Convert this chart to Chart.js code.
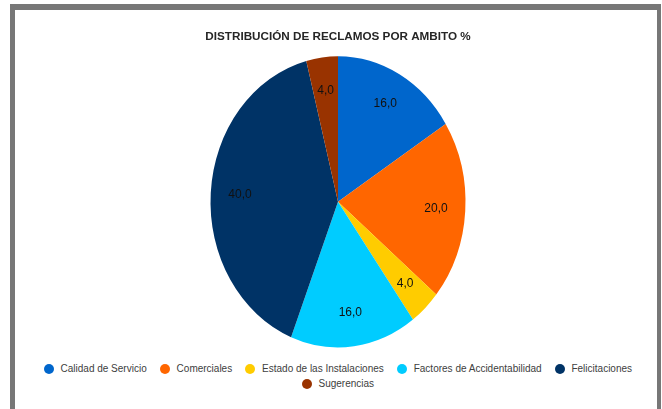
<!DOCTYPE html>
<html>
<head>
<meta charset="utf-8">
<script src="https://cdn.jsdelivr.net/npm/chart.js@4/dist/chart.umd.min.js"></script>
<style>
html,body{margin:0;padding:0;background:#fff;width:662px;height:409px;overflow:hidden;position:relative;}
#frame{position:absolute;left:10px;top:4px;width:642px;height:420px;border-style:solid;border-color:#777;border-width:6px 4px 0 5px;background:#fff;}
#wrap{position:absolute;left:15px;top:10px;width:646px;height:350px;z-index:2;}
#legend{position:absolute;left:38px;top:361px;width:600px;display:flex;flex-wrap:wrap;justify-content:center;column-gap:13.3px;font-family:"Liberation Sans",Arial,sans-serif;font-size:10px;line-height:15px;color:#404040;z-index:3;}
#legend .item{display:flex;align-items:center;white-space:nowrap;}
#legend .dot{width:10px;height:10px;border-radius:50%;margin-right:6.6px;flex:none;}
</style>
</head>
<body>
<div id="frame"></div>
<div id="wrap"><canvas id="c" width="646" height="350"></canvas></div>
<div id="legend"></div>
<script>
const categories = ['Calidad de Servicio','Comerciales','Estado de las Instalaciones','Factores de Accidentabilidad','Felicitaciones','Sugerencias'];
const values = [16.0, 20.0, 4.0, 16.0, 40.0, 4.0];
const colors = ['#0066CC','#FF6600','#FFCC00','#00CCFF','#003366','#993300'];
const chartTitle = 'DISTRIBUCIÓN DE RECLAMOS POR AMBITO %';

const SY = 145.5 / 127.5; // vertical stretch of the pie in the reference

const stretchPlugin = {
  id: 'stretch',
  beforeDatasetsDraw(chart) {
    const meta = chart.getDatasetMeta(0);
    const a = meta.data[0];
    const ctx = chart.ctx;
    ctx.save();
    ctx.translate(a.x, a.y);
    ctx.scale(1, SY);
    ctx.translate(-a.x, -a.y);
  },
  afterDatasetsDraw(chart) {
    const ctx = chart.ctx;
    ctx.restore();
    const meta = chart.getDatasetMeta(0);
    ctx.save();
    ctx.font = '12px "Liberation Sans", Arial, sans-serif';
    ctx.fillStyle = '#111';
    ctx.textAlign = 'center';
    ctx.textBaseline = 'middle';
    meta.data.forEach((arc, i) => {
      const p = arc.getProps(['x','y','startAngle','endAngle','outerRadius'], true);
      const mid = (p.startAngle + p.endAngle) / 2;
      const r = p.outerRadius * 0.77;
      const x = p.x + Math.cos(mid) * r;
      const y = p.y + Math.sin(mid) * r * SY;
      ctx.fillText(values[i].toFixed(1).replace('.', ','), x, y);
    });
    ctx.restore();
  }
};

new Chart(document.getElementById('c'), {
  type: 'pie',
  data: {
    labels: categories,
    datasets: [{
      data: values,
      backgroundColor: colors,
      borderWidth: 0,
      radius: 127.5
    }]
  },
  options: {
    responsive: false,
    animation: false,
    devicePixelRatio: 1,
    layout: { padding: 0 },
    plugins: {
      legend: { display: false },
      tooltip: { enabled: false },
      title: {
        display: true,
        text: chartTitle,
        color: '#262626',
        font: { family: '"Liberation Sans", Arial, sans-serif', size: 11.7, weight: 'bold' },
        padding: { top: 19.7, bottom: 0 }
      }
    }
  },
  plugins: [stretchPlugin]
});

const legend = document.getElementById('legend');
categories.forEach((name, i) => {
  const item = document.createElement('div');
  item.className = 'item';
  const dot = document.createElement('span');
  dot.className = 'dot';
  dot.style.background = colors[i];
  const txt = document.createElement('span');
  txt.textContent = name;
  item.appendChild(dot);
  item.appendChild(txt);
  legend.appendChild(item);
});
</script>
</body>
</html>
